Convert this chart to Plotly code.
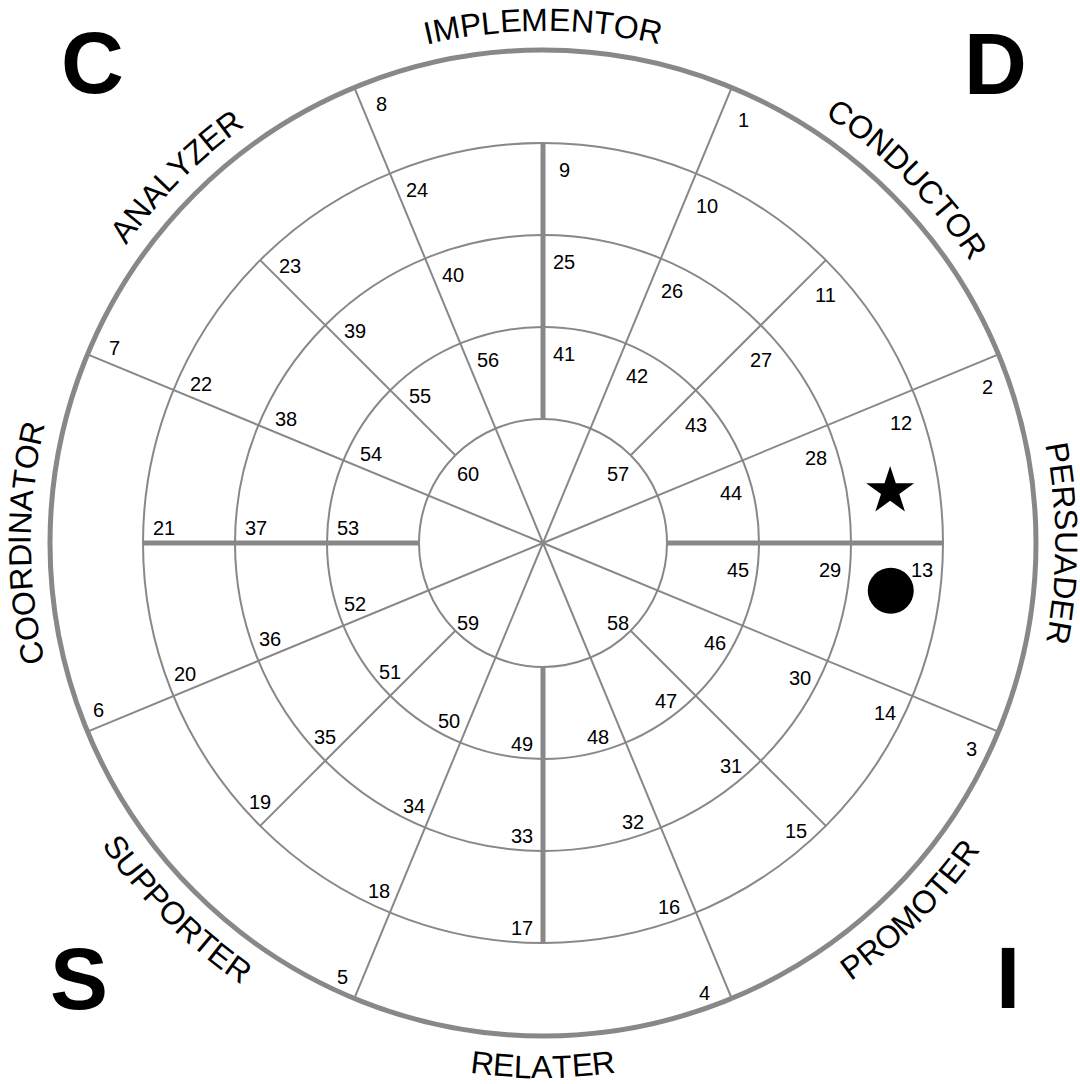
import numpy as np
import plotly.graph_objects as go

# ---------------- data ----------------
ring_radii = [124, 216, 308, 400, 493]          # inner circle ... outer circle
full_spoke_angles = [22.5, 67.5, 112.5, 157.5, 202.5, 247.5, 292.5, 337.5]
axis_angles = [0, 90, 180, 270]
diagonal_angles = [45, 135, 225, 315]

style_names = ["IMPLEMENTOR", "CONDUCTOR", "PERSUADER", "PROMOTER",
               "RELATER", "SUPPORTER", "COORDINATOR", "ANALYZER"]
style_angles = [0, 45, 90, 135, 180, 225, 270, 315]

outer_numbers = [1, 2, 3, 4, 5, 6, 7, 8]
ring1_numbers = [9, 10, 11, 12, 13, 14, 15, 16, 17, 18, 19, 20, 21, 22, 23, 24]
ring2_numbers = [25, 26, 27, 28, 29, 30, 31, 32, 33, 34, 35, 36, 37, 38, 39, 40]
ring3_numbers = [41, 42, 43, 44, 45, 46, 47, 48, 49, 50, 51, 52, 53, 54, 55, 56]
center_numbers = [57, 58, 59, 60]

corner_letters = ["C", "D", "S", "I"]

marker_symbols = ["star", "circle"]
marker_angles = [81.5, 97.8]
marker_radii = [351, 351]

# ---------------- style ----------------
GRAY = "#888888"
FONT = "Liberation Sans, Arial, sans-serif"
W, H = 1080, 1084
CX, CY = 543, 543               # wheel center in pixels

def pol(r, a):
    t = np.radians(a)
    return r * np.sin(t), r * np.cos(t)

shapes = []
annotations = []

# circles
for i, r in enumerate(ring_radii):
    shapes.append(dict(type="circle", xref="x", yref="y", x0=-r, x1=r, y0=-r, y1=r,
                       line=dict(color=GRAY, width=5 if i == len(ring_radii) - 1 else 2),
                       layer="below"))

def seg(a, r0, r1, width):
    x0, y0 = pol(r0, a)
    x1, y1 = pol(r1, a)
    shapes.append(dict(type="line", xref="x", yref="y", x0=x0, y0=y0, x1=x1, y1=y1,
                       line=dict(color=GRAY, width=width), layer="below"))

for a in full_spoke_angles:
    seg(a, 0, ring_radii[-1], 2)
for a in diagonal_angles:
    seg(a, ring_radii[0], ring_radii[3], 2)
for a in axis_angles:
    seg(a, ring_radii[0], ring_radii[3], 5)

# numbers
NUM_SIZE = 20
def num_label(n, a, r_out):
    x, y = pol(r_out - 21, a)
    t = np.radians(a)
    x += 21 * np.cos(t)
    y += -21 * np.sin(t) - 5.5
    annotations.append(dict(x=x, y=y, xref="x", yref="y", text=str(n), showarrow=False,
                            font=dict(family=FONT, size=NUM_SIZE, color="black"),
                            xanchor="center", yanchor="middle"))

for k, n in enumerate(outer_numbers):
    num_label(n, 22.5 + 45 * k, ring_radii[4])
for k, n in enumerate(ring1_numbers):
    num_label(n, 22.5 * k, ring_radii[3])
for k, n in enumerate(ring2_numbers):
    num_label(n, 22.5 * k, ring_radii[2])
for k, n in enumerate(ring3_numbers):
    num_label(n, 22.5 * k, ring_radii[1])
for k, n in enumerate(center_numbers):
    x, y = pol(106, 45 + 90 * k)
    annotations.append(dict(x=x, y=y - 5.5, xref="x", yref="y", text=str(n), showarrow=False,
                            font=dict(family=FONT, size=NUM_SIZE, color="black"),
                            xanchor="center", yanchor="middle"))

# curved style names
ADV = dict(A=667, B=667, C=722, D=722, E=667, F=611, G=778, H=722, I=278, J=500, K=667,
           L=556, M=833, N=722, O=778, P=667, Q=778, R=722, S=667, T=611, U=722, V=667,
           W=944, X=667, Y=667, Z=611)
NAME_SIZE = 32

def curved(text, ca):
    outward = not (90 < ca < 270)
    widths = [ADV[c] * NAME_SIZE / 1000 for c in text]
    total = sum(widths)
    if outward:
        r_path = 512
        r_box = r_path + 0.3465 * NAME_SIZE
    else:
        r_path = 535
        r_box = r_path - 0.3465 * NAME_SIZE
    cum = 0
    for c, wdt in zip(text, widths):
        s = cum + wdt / 2 - total / 2
        cum += wdt
        if outward:
            a = ca + np.degrees(s / r_path)
            rot = a
        else:
            a = ca - np.degrees(s / r_path)
            rot = a - 180
        rot = ((rot + 180) % 360) - 180
        x, y = pol(r_box, a)
        annotations.append(dict(x=x, y=y, xref="x", yref="y", text=c, showarrow=False,
                                textangle=rot, borderpad=0,
                                font=dict(family=FONT, size=NAME_SIZE, color="black"),
                                xanchor="center", yanchor="middle"))

for name, ang in zip(style_names, style_angles):
    curved(name, ang)

# corner letters (pixel positions converted to data)
corner_px = [(92, 62), (995, 63), (79, 978), (1008, 977)]
for letter, (px, py) in zip(corner_letters, corner_px):
    annotations.append(dict(x=px - CX, y=CY - py, xref="x", yref="y", text="<b>%s</b>" % letter,
                            showarrow=False, font=dict(family=FONT, size=87, color="black"),
                            xanchor="center", yanchor="middle"))

fig = go.Figure()
mx, my = [], []
for a, r in zip(marker_angles, marker_radii):
    x, y = pol(r, a)
    mx.append(x)
    my.append(y)
fig.add_trace(go.Scatter(x=[mx[0]], y=[my[0]], mode="markers",
                         marker=dict(symbol=marker_symbols[0], size=36, color="black",
                                     line=dict(width=0)),
                         hoverinfo="skip", showlegend=False))
fig.add_trace(go.Scatter(x=[mx[1]], y=[my[1]], mode="markers",
                         marker=dict(symbol=marker_symbols[1], size=46, color="black",
                                     line=dict(width=0)),
                         hoverinfo="skip", showlegend=False))

fig.update_layout(
    width=W, height=H, margin=dict(l=0, r=0, t=0, b=0),
    paper_bgcolor="white", plot_bgcolor="white",
    xaxis=dict(range=[-CX, W - CX], visible=False, fixedrange=True),
    yaxis=dict(range=[CY - H, CY], visible=False, fixedrange=True),
    shapes=shapes, annotations=annotations, showlegend=False,
)
fig.write_html("out.html", config={"displayModeBar": False},
               post_script="document.body.style.margin='0';document.body.style.overflow='hidden';")
